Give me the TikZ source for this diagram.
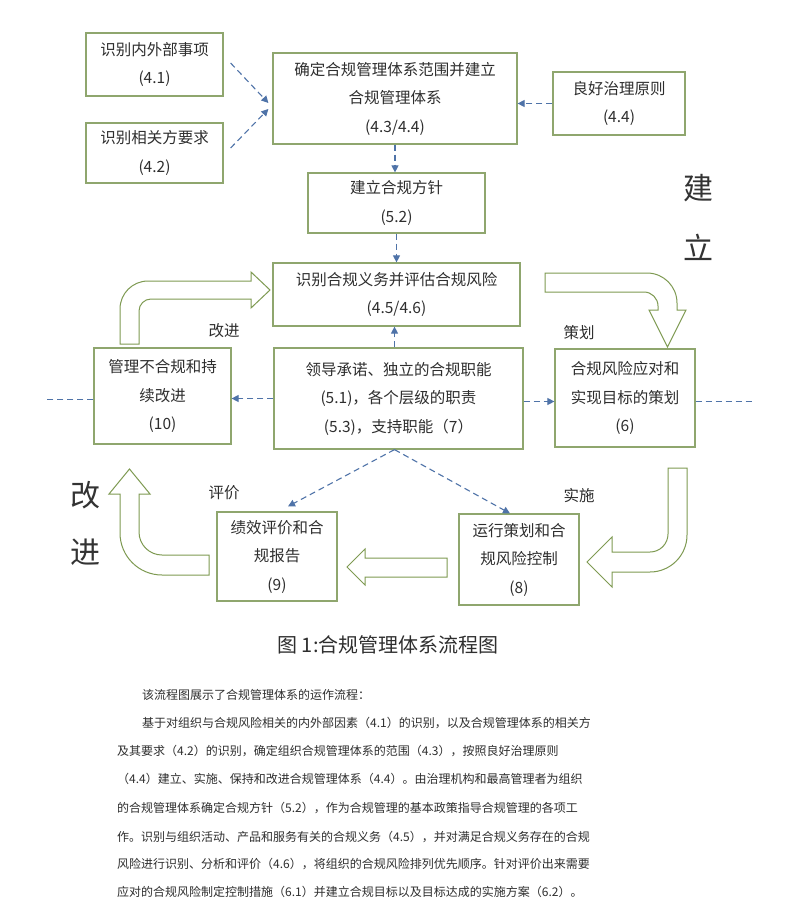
\documentclass[tikz,border=0pt]{standalone}
\usepackage{fontspec}
\setmainfont{Noto Sans CJK SC}
\usetikzlibrary{arrows.meta,calc}
\definecolor{boxgreen}{HTML}{8FA66E}
\definecolor{arrgreen}{HTML}{7E9A52}
\definecolor{dashblue}{HTML}{4F73A8}
\definecolor{txt}{HTML}{2E2E2E}
\begin{document}
\begin{tikzpicture}[x=1pt,y=-1pt,
  box/.style={draw=boxgreen, line width=1.2pt, fill=white, text=txt, align=center, inner sep=0pt, font=\fontsize{15.5}{28.5}\selectfont},
  dashar/.style={draw=dashblue, line width=1.1pt, dash pattern=on 6pt off 4pt, -{Triangle[length=7pt,width=7pt]}},
  dashln/.style={draw=dashblue, line width=1pt, dash pattern=on 6pt off 4pt},
  blockarrow/.style={draw=arrgreen, line width=1pt, fill=white, line join=miter},
  lbl/.style={text=txt, inner sep=0pt, font=\fontsize{15.5}{18}\selectfont},
  big/.style={text=black!80, inner sep=0pt, font=\fontsize{30}{30}\selectfont},
  body/.style={text=txt, anchor=base west, inner sep=0pt, font=\fontsize{12}{14}\selectfont}]
\useasboundingbox[fill=white] (0,0) rectangle (792,916);

% boxes
\node[box, minimum width=137pt, minimum height=63pt] (b41) at (154.5,64.5) {识别内外部事项\\(4.1)};
\node[box, minimum width=137pt, minimum height=60pt] (b42) at (154.5,153) {识别相关方要求\\(4.2)};
\node[box, minimum width=244pt, minimum height=91pt] (b43) at (395,98.5) {确定合规管理体系范围并建立\\合规管理体系\\(4.3/4.4)};
\node[box, minimum width=132pt, minimum height=63pt] (b44) at (619,103.5) {良好治理原则\\(4.4)};
\node[box, minimum width=177pt, minimum height=60pt] (b52) at (396.5,203) {建立合规方针\\(5.2)};
\node[box, minimum width=247pt, minimum height=63pt] (b45) at (396.5,294.5) {识别合规义务并评估合规风险\\(4.5/4.6)};
\node[box, minimum width=249pt, minimum height=101pt] (b7) at (398.5,398.5) {领导承诺、独立的合规职能\\(5.1)，各个层级的职责\\(5.3)，支持职能（7）};
\node[box, minimum width=137pt, minimum height=96pt] (b10) at (162.5,396) {管理不合规和持\\续改进\\(10)};
\node[box, minimum width=140pt, minimum height=98pt] (b6) at (625,398) {合规风险应对和\\实现目标的策划\\(6)};
\node[box, minimum width=120pt, minimum height=89pt] (b9) at (277,556.5) {绩效评价和合\\规报告\\(9)};
\node[box, minimum width=120pt, minimum height=91pt] (b8) at (519,559.5) {运行策划和合\\规风险控制\\(8)};

% dashed connectors
\draw[dashar] ($(b41.east)+(7,-1.5)$) -- ($(b43.west)+(-4,4.5)$);
\draw[dashar] ($(b42.east)+(7,-5)$) -- ($(b43.west)+(-4,10.5)$);
\draw[dashar] (b44.west) -- (b44.west -| b43.east);
\draw[dashar] (b43.south) -- (b43.south |- b52.north);
\draw[dashar] (b52.south) -- (b52.south |- b45.north);
\draw[dashar] ($(b7.north)+(-4,0)$) -- ($(b7.north |- b45.south)+(-4,0)$);
\draw[dashar] (b7.west) -- (b7.west -| b10.east);
\draw[dashar] ($(b7.east)+(0,3)$) -- ($(b7.east -| b6.west)+(0,3)$);
\draw[dashar] ($(b7.south)+(-4,0)$) -- ($(b9.north)+(11,-5)$);
\draw[dashar] ($(b7.south)+(-4,0)$) -- ($(b8.north)+(-9,0)$);
\coordinate (lend) at (45,399);
\coordinate (rend) at (752,401);
\draw[dashln] (b10.west |- lend) -- (lend);
\draw[dashln] (b6.east |- rend) -- (rend);

% block arrows
\draw[blockarrow] (120,344) -- (120,309) .. controls (120,293.5) and (132.5,281) .. (148,281) -- (251,281) -- (251,272) -- (270,290) -- (251,308) -- (251,299) -- (151,299) .. controls (144.4,299) and (139,304.4) .. (139,311) -- (139,344) -- cycle;
\draw[blockarrow] (545,273) -- (647,273) .. controls (663.6,273) and (677,286.4) .. (677,303) -- (677,310) -- (686,310) -- (667.5,347) -- (649,310) -- (658,310) -- (658,306) .. controls (658,298.3) and (651.7,292) .. (644,292) -- (545,292) -- cycle;
\draw[blockarrow] (668,468) -- (687,468) -- (687,535) .. controls (687,555.4) and (670.4,572) .. (650,572) -- (612,572) -- (612,587) -- (587,562) -- (612,537) -- (612,552) -- (650,552) .. controls (659.9,552) and (668,543.9) .. (668,534) -- cycle;
\draw[blockarrow] (447,558) -- (365,558) -- (365,549) -- (347,567) -- (365,585) -- (365,577) -- (447,577) -- cycle;
\draw[blockarrow] (209,555) -- (162,555) .. controls (149.3,555) and (139,544.7) .. (139,532) -- (139,494) -- (150,494) -- (129.5,469) -- (109,494) -- (120,494) -- (120,533) .. controls (120,556.2) and (138.8,575) .. (162,575) -- (209,575) -- cycle;

% labels
\node[lbl] (l1) at (224,331) {改进};
\node[lbl] (l2) at (224,493) {评价};
\node[lbl] (l3) at (579,333) {策划};
\node[lbl] (l4) at (579,496) {实施};
\node[big] (g1) at (85,495) {改};
\node[big] (g2) at (85,552) {进};
\node[big] (g3) at (698,188) {建};
\node[big] (g4) at (698,247) {立};

% caption
\node[text=txt, inner sep=0pt, font=\fontsize{20}{24}\selectfont] (cap) at (388,645) {图 1:合规管理体系流程图};

% body text
\node[body] (t1) at (142,699.5) {该流程图展示了合规管理体系的运作流程：};
\node[body] (t2) at (142,727.5) {基于对组织与合规风险相关的内外部因素（4.1）的识别，以及合规管理体系的相关方};
\node[body] (t3) at (117,755.5) {及其要求（4.2）的识别，确定组织合规管理体系的范围（4.3），按照良好治理原则};
\node[body] (t4) at (117,783.5) {（4.4）建立、实施、保持和改进合规管理体系（4.4）。由治理机构和最高管理者为组织};
\node[body] (t5) at (117,812.5) {的合规管理体系确定合规方针（5.2），作为合规管理的基本政策指导合规管理的各项工};
\node[body] (t6) at (117,841.5) {作。识别与组织活动、产品和服务有关的合规义务（4.5），并对满足合规义务存在的合规};
\node[body] (t7) at (117,868.5) {风险进行识别、分析和评价（4.6），将组织的合规风险排列优先顺序。针对评价出来需要};
\node[body] (t8) at (117,896.5) {应对的合规风险制定控制措施（6.1）并建立合规目标以及目标达成的实施方案（6.2）。};
\end{tikzpicture}
\end{document}
